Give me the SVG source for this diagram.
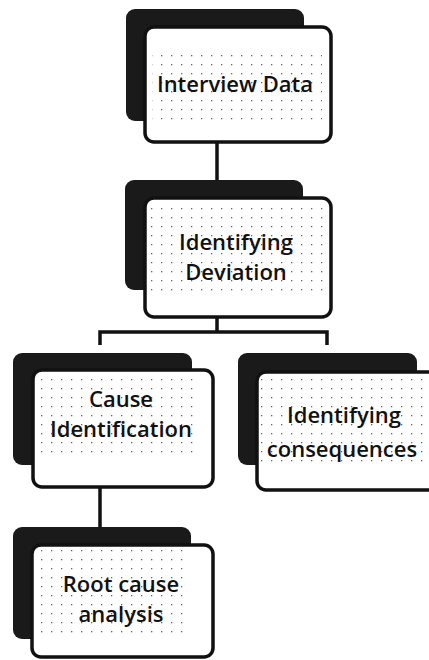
<svg xmlns="http://www.w3.org/2000/svg" width="429" height="660" viewBox="0 0 429 660">
  <defs>
    <pattern id="dots" width="10" height="9" patternUnits="userSpaceOnUse">
      <rect x="1" y="1" width="1.3" height="1.3" fill="#666"/>
    </pattern>
    <style>
      .back { fill: #1a1a1a; }
      .front { fill: #ffffff; stroke: #111; stroke-width: 3.5; }
      .stipple { fill: url(#dots); }
      .label { font-family: "Open Sans", "Noto Sans", "Liberation Sans", sans-serif; font-size: 22px; font-weight: 600; fill: #111; text-anchor: middle; }
      .wire { fill: none; stroke: #111; stroke-width: 3.5; }
    </style>
  </defs>
  <rect width="429" height="660" fill="#ffffff"/>

  <g id="connectors">
    <line class="wire" x1="217" y1="142" x2="217" y2="183"/>
    <path class="wire" d="M217 317 V332 M100 345 V332 H327 V345"/>
    <line class="wire" x1="100" y1="487" x2="100" y2="527"/>
  </g>

  <g id="interview-data">
    <rect class="back" x="126" y="9" width="178" height="112" rx="9"/>
    <rect class="front" x="145" y="27" width="186" height="115" rx="9"/>
    <rect class="stipple" x="152" y="52" width="170" height="68"/>
    <text class="label" x="235" y="92">Interview Data</text>
  </g>

  <g id="identifying-deviation">
    <rect class="back" x="125" y="180" width="178" height="110" rx="9"/>
    <rect class="front" x="145" y="198" width="186" height="119" rx="9"/>
    <rect class="stipple" x="150" y="203" width="176" height="88"/>
    <text class="label" x="236" y="250">Identifying</text>
    <text class="label" x="236" y="280">Deviation</text>
  </g>

  <g id="cause-identification">
    <rect class="back" x="13" y="353" width="179" height="112" rx="9"/>
    <rect class="front" x="33" y="370" width="180" height="117" rx="9"/>
    <rect class="stipple" x="37" y="374" width="156" height="86"/>
    <text class="label" x="121" y="407">Cause</text>
    <text class="label" x="121" y="437">Identification</text>
  </g>

  <g id="identifying-consequences">
    <rect class="back" x="238" y="353" width="179" height="112" rx="9"/>
    <rect class="front" x="257" y="372" width="180" height="118" rx="9"/>
    <rect class="stipple" x="261" y="376" width="166" height="86"/>
    <text class="label" x="344" y="423">Identifying</text>
    <text class="label" x="342" y="457">consequences</text>
  </g>

  <g id="root-cause-analysis">
    <rect class="back" x="13" y="527" width="178" height="112" rx="9"/>
    <rect class="front" x="32" y="545" width="181" height="112" rx="9"/>
    <rect class="stipple" x="37" y="550" width="147" height="85"/>
    <text class="label" x="121" y="592">Root cause</text>
    <text class="label" x="121" y="622">analysis</text>
  </g>
</svg>
